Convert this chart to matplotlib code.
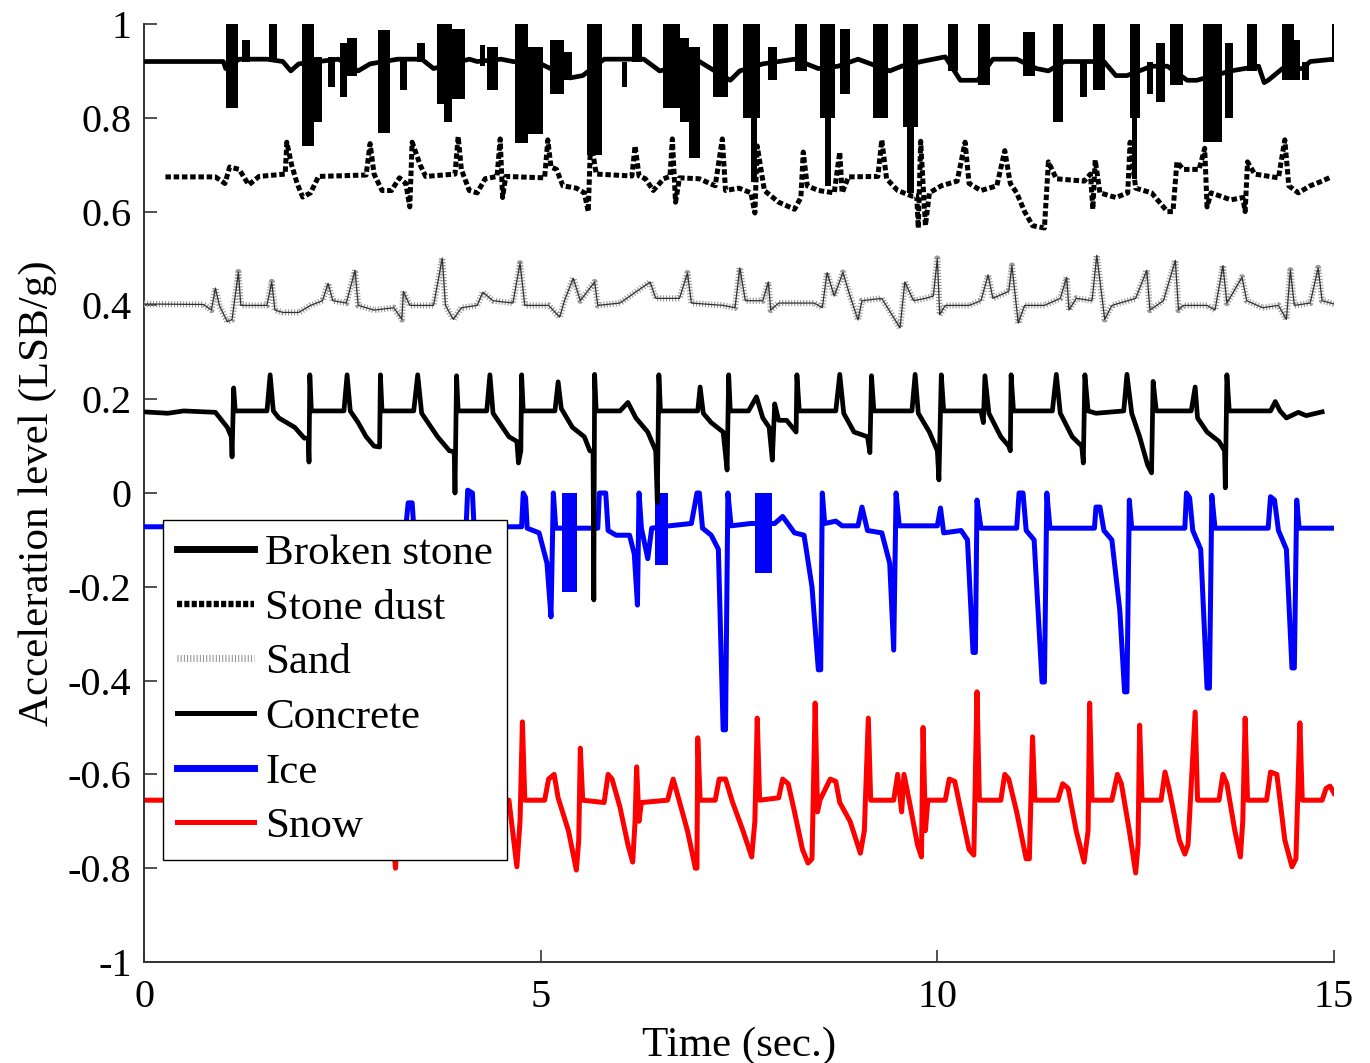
import matplotlib
matplotlib.use('Agg')
import matplotlib.pyplot as plt
from matplotlib.lines import Line2D

plt.rcParams['font.family'] = ['Liberation Serif', 'DejaVu Serif']
plt.rcParams['axes.unicode_minus'] = False

# ---------------- data ----------------
LABELS = ['Broken stone', 'Stone dust', 'Sand', 'Concrete', 'Ice', 'Snow']
XTICKS = [0, 5, 10, 15]
YTICKS = [-1, -0.8, -0.6, -0.4, -0.2, 0, 0.2, 0.4, 0.6, 0.8, 1]
YTICK_LABELS = ['-1', '-0.8', '-0.6', '-0.4', '-0.2', '0', '0.2', '0.4', '0.6', '0.8', '1']

# Broken stone: baseline trace
BS_T = [0, 1.0, 1.03, 1.2, 1.55, 1.75, 1.85, 1.95, 2.2, 2.45, 2.7, 2.85, 3.2, 3.5, 3.65, 4.1, 4.2,
        4.5, 4.65, 5.0, 5.37, 5.53, 5.8, 6.3, 6.5, 7.0, 7.39, 7.51, 7.8, 8.2, 8.5, 8.75, 9.0, 9.4,
        9.55, 9.8, 10.1, 10.29, 10.51, 10.7, 11.0, 11.25, 11.4, 11.6, 12.1, 12.25, 12.39, 12.7,
        12.9, 13.15, 13.27, 13.7, 14.05, 14.12, 14.17, 14.35, 14.6, 14.7, 15.0]
BS_Y = [0.92, 0.92, 0.905, 0.925, 0.925, 0.92, 0.9, 0.915, 0.92, 0.925, 0.9, 0.915, 0.925, 0.925,
        0.905, 0.925, 0.92, 0.925, 0.92, 0.915, 0.885, 0.89, 0.925, 0.925, 0.9, 0.92, 0.88, 0.9,
        0.915, 0.925, 0.905, 0.91, 0.925, 0.9, 0.91, 0.92, 0.93, 0.88, 0.88, 0.925, 0.925, 0.905,
        0.9, 0.92, 0.92, 0.89, 0.89, 0.91, 0.91, 0.88, 0.88, 0.9, 0.91, 0.875, 0.88, 0.905, 0.905,
        0.92, 0.925]
# Broken stone: vibration bursts (start, end, low, high)
BS_B_T0 = [1.03, 1.24, 1.58, 1.99, 2.14, 2.32, 2.47, 2.56, 2.95, 3.23, 3.44, 3.69, 3.78, 3.88,
           4.24, 4.32, 4.68, 4.84, 5.12, 5.30, 5.58, 6.03, 6.15, 6.54, 6.76, 6.87, 7.17, 7.55,
           7.65, 7.87, 8.20, 8.52, 8.58, 8.77, 9.19, 9.57, 9.62, 10.13, 10.51, 11.08, 11.46,
           11.80, 11.96, 12.43, 12.46, 12.64, 12.75, 12.93, 13.35, 13.63, 13.90, 14.35, 14.50,
           14.60, 14.97]
BS_B_T1 = [1.18, 1.34, 1.68, 2.14, 2.24, 2.41, 2.56, 2.68, 3.10, 3.31, 3.54, 3.78, 3.88, 4.05,
           4.30, 4.46, 4.84, 5.03, 5.30, 5.40, 5.77, 6.09, 6.28, 6.76, 6.87, 7.01, 7.36, 7.77,
           7.73, 7.98, 8.36, 8.71, 8.66, 8.90, 9.38, 9.76, 9.70, 10.26, 10.66, 11.23, 11.58,
           11.89, 12.11, 12.55, 12.52, 12.72, 12.87, 13.10, 13.59, 13.73, 14.03, 14.50, 14.57,
           14.68, 15.00]
BS_B_LO = [0.82, 0.92, 0.92, 0.74, 0.79, 0.866, 0.845, 0.89, 0.768, 0.86, 0.92, 0.83, 0.79, 0.84,
           0.91, 0.86, 0.746, 0.765, 0.85, 0.88, 0.72, 0.866, 0.92, 0.82, 0.79, 0.714, 0.845, 0.80,
           0.663, 0.88, 0.90, 0.80, 0.655, 0.85, 0.80, 0.78, 0.64, 0.90, 0.87, 0.89, 0.79, 0.845,
           0.86, 0.80, 0.67, 0.85, 0.834, 0.87, 0.749, 0.80, 0.90, 0.88, 0.88, 0.88, 0.92]
BS_B_HI = [1.0, 0.966, 1.0, 1.0, 0.93, 0.93, 0.96, 0.97, 0.987, 0.93, 0.96, 1.0, 1.0, 0.99, 0.955,
           0.95, 1.0, 0.95, 0.966, 0.94, 1.0, 0.92, 1.0, 1.0, 0.97, 0.95, 1.0, 1.0, 0.80, 0.95,
           1.0, 1.0, 0.80, 0.99, 1.0, 1.0, 0.78, 1.0, 1.0, 0.983, 1.0, 0.92, 1.0, 1.0, 0.80, 0.92,
           0.96, 1.0, 1.0, 0.96, 1.0, 1.0, 0.965, 0.92, 1.0]

# Stone dust
SD_T = [0.27, 0.9, 1.02, 1.08, 1.2, 1.32, 1.45, 1.78, 1.80, 1.86, 1.93, 2.0, 2.1, 2.2, 2.8, 2.85,
        2.9, 3.0, 3.12, 3.22, 3.3, 3.35, 3.38, 3.48, 3.55, 3.92, 3.96, 4.0, 4.1, 4.2, 4.3, 4.45,
        4.49, 4.52, 4.56, 5.05, 5.09, 5.13, 5.2, 5.28, 5.45, 5.55, 5.60, 5.63, 5.70, 6.15, 6.19,
        6.24, 6.32, 6.42, 6.55, 6.63, 6.66, 6.70, 6.75, 7.0, 7.2, 7.29, 7.33, 7.5, 7.65, 7.70,
        7.73, 7.82, 8.0, 8.2, 8.28, 8.31, 8.36, 8.5, 8.7, 8.77, 8.80, 8.88, 9.25, 9.30, 9.36, 9.5,
        9.68, 9.74, 9.76, 9.79, 9.85, 9.9, 10.05, 10.25, 10.35, 10.4, 10.55, 10.75, 10.85, 10.92,
        11.0, 11.1, 11.2, 11.35, 11.4, 11.5, 11.85, 11.93, 11.96, 11.99, 12.05, 12.25, 12.4,
        12.43, 12.5, 12.7, 12.9, 12.97, 13.02, 13.1, 13.3, 13.37, 13.40, 13.45, 13.7, 13.85,
        13.88, 13.91, 14.0, 14.3, 14.38, 14.43, 14.55, 14.7, 14.85, 14.95]
SD_Y = [0.674, 0.674, 0.66, 0.695, 0.69, 0.657, 0.675, 0.68, 0.748, 0.70, 0.66, 0.631, 0.64, 0.675,
        0.678, 0.745, 0.68, 0.645, 0.645, 0.672, 0.66, 0.61, 0.748, 0.70, 0.675, 0.68, 0.76, 0.69,
        0.645, 0.64, 0.67, 0.675, 0.755, 0.63, 0.675, 0.672, 0.753, 0.695, 0.69, 0.655, 0.65,
        0.64, 0.60, 0.755, 0.68, 0.676, 0.74, 0.676, 0.67, 0.645, 0.67, 0.675, 0.755, 0.62, 0.672,
        0.67, 0.655, 0.755, 0.645, 0.65, 0.64, 0.597, 0.74, 0.645, 0.62, 0.605, 0.63, 0.727,
        0.655, 0.645, 0.64, 0.727, 0.64, 0.674, 0.675, 0.753, 0.67, 0.645, 0.633, 0.633, 0.565,
        0.75, 0.57, 0.64, 0.655, 0.665, 0.748, 0.66, 0.645, 0.655, 0.73, 0.66, 0.64, 0.6, 0.57,
        0.565, 0.706, 0.67, 0.665, 0.68, 0.605, 0.71, 0.64, 0.63, 0.64, 0.748, 0.65, 0.64, 0.6,
        0.6, 0.706, 0.69, 0.69, 0.735, 0.61, 0.64, 0.625, 0.63, 0.6, 0.706, 0.68, 0.672, 0.753,
        0.655, 0.64, 0.655, 0.665, 0.673]

# Sand
SA_T = [0, 0.75, 0.85, 0.9, 0.95, 1.05, 1.11, 1.19, 1.22, 1.35, 1.55, 1.61, 1.65, 1.75, 1.95, 2.1,
        2.25, 2.32, 2.38, 2.55, 2.66, 2.7, 2.9, 3.15, 3.25, 3.27, 3.35, 3.65, 3.76, 3.8, 3.9, 4.0,
        4.2, 4.27, 4.4, 4.65, 4.74, 4.8, 5.1, 5.24, 5.3, 5.41, 5.5, 5.68, 5.72, 6.0, 6.38, 6.45,
        6.75, 6.85, 6.9, 7.3, 7.45, 7.51, 7.58, 7.8, 7.87, 7.9, 8.0, 8.45, 8.55, 8.61, 8.7, 8.81,
        8.9, 9.0, 9.05, 9.3, 9.53, 9.59, 9.7, 9.85, 9.95, 10.0, 10.03, 10.1, 10.4, 10.55, 10.64,
        10.7, 10.9, 10.94, 11.02, 11.1, 11.35, 11.55, 11.63, 11.66, 11.75, 11.95, 12.01, 12.11,
        12.2, 12.5, 12.64, 12.68, 12.85, 13.0, 13.04, 13.1, 13.4, 13.5, 13.6, 13.65, 13.84, 13.9,
        14.1, 14.3, 14.4, 14.45, 14.5, 14.7, 14.8, 14.85, 15.0]
SA_Y = [0.403, 0.402, 0.39, 0.437, 0.40, 0.365, 0.37, 0.471, 0.40, 0.40, 0.40, 0.45, 0.39, 0.385,
        0.385, 0.40, 0.41, 0.447, 0.41, 0.405, 0.475, 0.40, 0.39, 0.395, 0.37, 0.43, 0.40, 0.40,
        0.501, 0.40, 0.37, 0.395, 0.40, 0.428, 0.41, 0.405, 0.49, 0.40, 0.40, 0.375, 0.41, 0.458,
        0.41, 0.45, 0.40, 0.405, 0.45, 0.415, 0.415, 0.469, 0.405, 0.40, 0.395, 0.48, 0.41, 0.41,
        0.45, 0.39, 0.405, 0.405, 0.395, 0.47, 0.42, 0.47, 0.42, 0.369, 0.41, 0.415, 0.352, 0.45,
        0.41, 0.415, 0.42, 0.50, 0.38, 0.40, 0.40, 0.41, 0.465, 0.415, 0.43, 0.485, 0.362, 0.40,
        0.40, 0.415, 0.46, 0.39, 0.415, 0.41, 0.507, 0.37, 0.40, 0.415, 0.475, 0.39, 0.41, 0.496,
        0.39, 0.40, 0.40, 0.39, 0.485, 0.405, 0.46, 0.41, 0.395, 0.40, 0.37, 0.475, 0.40, 0.405,
        0.48, 0.41, 0.403]

# Concrete
CO_T = [0, 0.3, 0.5, 0.9, 1.05, 1.1, 1.11, 1.13, 1.15, 1.55, 1.59, 1.63, 1.7, 1.9, 2.02, 2.07, 2.08,
        2.09, 2.11, 2.52, 2.56, 2.6, 2.7, 2.8, 2.9, 2.97, 2.98, 3.0, 3.4, 3.45, 3.5, 3.7, 3.85,
        3.91, 3.92, 3.94, 3.96, 4.32, 4.36, 4.4, 4.6, 4.7, 4.72, 4.75, 4.76, 4.78, 5.18, 5.22,
        5.26, 5.4, 5.55, 5.62, 5.66, 5.67, 5.68, 5.70, 6.0, 6.1, 6.2, 6.35, 6.45, 6.47, 6.49, 6.51,
        6.98, 7.01, 7.05, 7.15, 7.3, 7.35, 7.37, 7.39, 7.62, 7.72, 7.8, 7.88, 7.92, 7.95, 8.0, 8.1,
        8.22, 8.23, 8.26, 8.72, 8.77, 8.82, 8.95, 9.12, 9.15, 9.17, 9.2, 9.68, 9.72, 9.76, 9.9,
        10.0, 10.02, 10.05, 10.08, 10.55, 10.58, 10.6, 10.65, 10.8, 10.9, 10.92, 10.93, 10.96,
        11.45, 11.5, 11.55, 11.7, 11.82, 11.84, 11.86, 11.9, 12.0, 12.35, 12.39, 12.45, 12.55,
        12.65, 12.7, 12.72, 12.76, 13.2, 13.25, 13.28, 13.4, 13.55, 13.62, 13.63, 13.65, 13.68,
        14.2, 14.26, 14.32, 14.4, 14.55, 14.65, 14.85]
CO_Y = [0.173, 0.17, 0.175, 0.172, 0.14, 0.12, 0.077, 0.224, 0.175, 0.175, 0.252, 0.175, 0.16,
        0.14, 0.117, 0.117, 0.066, 0.252, 0.175, 0.175, 0.252, 0.175, 0.15, 0.12, 0.10, 0.098,
        0.252, 0.175, 0.175, 0.252, 0.17, 0.12, 0.09, 0.088, 0.0, 0.25, 0.175, 0.175, 0.252, 0.17,
        0.12, 0.11, 0.064, 0.09, 0.252, 0.175, 0.175, 0.237, 0.18, 0.14, 0.12, 0.09, 0.088,
        -0.228, 0.253, 0.175, 0.175, 0.193, 0.16, 0.13, 0.09, -0.02, 0.252, 0.175, 0.175, 0.226,
        0.17, 0.15, 0.13, 0.049, 0.252, 0.175, 0.175, 0.205, 0.16, 0.14, 0.07, 0.19, 0.155, 0.155,
        0.13, 0.252, 0.175, 0.175, 0.253, 0.17, 0.13, 0.12, 0.086, 0.25, 0.175, 0.175, 0.253,
        0.17, 0.13, 0.09, 0.028, 0.252, 0.175, 0.175, 0.15, 0.25, 0.17, 0.12, 0.10, 0.09, 0.252,
        0.175, 0.175, 0.253, 0.17, 0.12, 0.1, 0.064, 0.252, 0.175, 0.17, 0.175, 0.253, 0.17, 0.12,
        0.06, 0.043, 0.238, 0.175, 0.175, 0.226, 0.16, 0.13, 0.11, 0.09, 0.011, 0.252, 0.175,
        0.175, 0.195, 0.175, 0.16, 0.172, 0.165, 0.173]

# Ice: trace
ICE_T = [0, 3.30, 3.33, 3.38, 3.40, 4.06, 4.08, 4.14, 4.16, 4.76, 4.78, 4.81, 4.83, 4.98, 5.08,
         5.13, 5.16, 5.19, 5.5, 5.72, 5.74, 5.82, 5.85, 5.95, 6.12, 6.18, 6.22, 6.24, 6.27, 6.35,
         6.40, 6.62, 6.9, 6.97, 7.0, 7.04, 7.15, 7.24, 7.30, 7.33, 7.36, 7.40, 7.65, 7.95, 8.05,
         8.2, 8.32, 8.42, 8.50, 8.53, 8.55, 8.58, 8.72, 8.8, 9.0, 9.05, 9.12, 9.3, 9.40, 9.45,
         9.48, 9.52, 10.0, 10.04, 10.08, 10.3, 10.38, 10.45, 10.48, 10.50, 10.55, 11.0, 11.03,
         11.08, 11.12, 11.22, 11.32, 11.35, 11.38, 11.42, 11.98, 12.0, 12.05, 12.1, 12.2, 12.3,
         12.36, 12.39, 12.42, 12.45, 13.12, 13.14, 13.18, 13.22, 13.32, 13.40, 13.43, 13.46, 13.5,
         14.17, 14.2, 14.25, 14.3, 14.4, 14.47, 14.50, 14.53, 14.56, 15.0]
ICE_Y = [-0.072, -0.072, -0.021, -0.021, -0.072, -0.072, 0.006, 0.0, -0.072, -0.072, 0.0, -0.01,
         -0.075, -0.085, -0.15, -0.264, 0.0, -0.075, -0.075, -0.075, 0.0, 0.0, -0.08, -0.09, -0.09,
         -0.13, -0.239, 0.0, -0.075, -0.14, -0.075, -0.07, -0.065, 0.0, 0.0, -0.075, -0.09, -0.12,
         -0.505, -0.505, 0.0, -0.07, -0.065, -0.065, -0.05, -0.085, -0.09, -0.2, -0.377, -0.377,
         0.0, -0.065, -0.06, -0.07, -0.07, -0.03, -0.08, -0.085, -0.15, -0.335, 0.0, -0.07, -0.07,
         -0.032, -0.085, -0.08, -0.1, -0.34, -0.34, -0.015, -0.075, -0.075, 0.0, 0.0, -0.08, -0.1,
         -0.403, -0.403, 0.0, -0.075, -0.075, -0.03, -0.03, -0.08, -0.1, -0.25, -0.424, -0.424,
         -0.015, -0.075, -0.075, 0.0, -0.01, -0.08, -0.12, -0.416, -0.416, -0.005, -0.075, -0.075,
         -0.008, -0.015, -0.08, -0.12, -0.373, -0.373, -0.015, -0.075, -0.075]
# Ice: vibration bursts (start, end, low, high)
ICE_B_T0 = [5.27, 6.44, 7.70]
ICE_B_T1 = [5.46, 6.60, 7.92]
ICE_B_LO = [-0.211, -0.153, -0.17]
ICE_B_HI = [0.0, 0.0, 0.0]

# Snow
SN_T = [0, 3.1, 3.17, 3.22, 4.6, 4.70, 4.74, 4.77, 4.80, 5.05, 5.10, 5.17, 5.22, 5.35, 5.45, 5.48,
        5.50, 5.53, 5.8, 5.85, 5.90, 6.0, 6.10, 6.16, 6.19, 6.21, 6.24, 6.27, 6.6, 6.67, 6.72,
        6.85, 6.95, 6.97, 6.98, 7.01, 7.2, 7.25, 7.33, 7.42, 7.55, 7.66, 7.70, 7.73, 7.76, 8.0,
        8.05, 8.12, 8.2, 8.30, 8.37, 8.42, 8.46, 8.49, 8.52, 8.65, 8.72, 8.77, 8.90, 9.03, 9.08,
        9.13, 9.16, 9.45, 9.5, 9.55, 9.58, 9.65, 9.75, 9.80, 9.82, 9.85, 9.88, 10.1, 10.15, 10.22,
        10.3, 10.40, 10.46, 10.5, 10.53, 10.8, 10.85, 10.9, 11.0, 11.12, 11.16, 11.2, 11.23,
        11.52, 11.58, 11.65, 11.75, 11.85, 11.9, 11.92, 11.95, 12.2, 12.27, 12.32, 12.42, 12.5,
        12.53, 12.55, 12.58, 12.82, 12.87, 12.92, 13.05, 13.12, 13.16, 13.25, 13.28, 13.55, 13.6,
        13.65, 13.75, 13.82, 13.85, 13.88, 13.91, 14.15, 14.2, 14.28, 14.38, 14.47, 14.52, 14.57,
        14.6, 14.85, 14.9, 14.95, 15.0]
SN_Y = [-0.655, -0.655, -0.80, -0.655, -0.655, -0.797, -0.70, -0.488, -0.655, -0.655, -0.61,
        -0.6, -0.65, -0.72, -0.804, -0.74, -0.544, -0.655, -0.66, -0.6, -0.61, -0.67, -0.75,
        -0.787, -0.7, -0.584, -0.7, -0.66, -0.655, -0.61, -0.64, -0.72, -0.80, -0.8, -0.522,
        -0.655, -0.655, -0.61, -0.61, -0.66, -0.72, -0.776, -0.7, -0.48, -0.655, -0.65, -0.61,
        -0.62, -0.68, -0.76, -0.789, -0.78, -0.448, -0.68, -0.655, -0.61, -0.615, -0.66, -0.7,
        -0.768, -0.72, -0.48, -0.655, -0.655, -0.6, -0.68, -0.6, -0.66, -0.75, -0.776, -0.5,
        -0.72, -0.655, -0.655, -0.61, -0.615, -0.68, -0.76, -0.772, -0.424, -0.655, -0.655, -0.6,
        -0.61, -0.68, -0.78, -0.78, -0.52, -0.655, -0.655, -0.62, -0.63, -0.72, -0.787, -0.72,
        -0.448, -0.655, -0.655, -0.6, -0.62, -0.72, -0.81, -0.75, -0.495, -0.655, -0.655, -0.595,
        -0.63, -0.74, -0.77, -0.75, -0.467, -0.655, -0.655, -0.6, -0.62, -0.72, -0.776, -0.7,
        -0.48, -0.655, -0.655, -0.595, -0.6, -0.74, -0.797, -0.78, -0.49, -0.655, -0.655, -0.63,
        -0.625, -0.64]

# ---------------- figure ----------------
W, H = 1370, 1063
fig = plt.figure(figsize=(W / 100, H / 100), dpi=100)
ax = fig.add_axes([144 / W, 101 / H, 1190 / W, 938 / H])

RED, BLUE = '#ff0000', '#0000ff'

ax.plot(SN_T, SN_Y, color=RED, lw=3.6, zorder=2)
ax.plot(ICE_T, ICE_Y, color=BLUE, lw=3.6, zorder=3)
ax.bar(ICE_B_T0, [h - l for h, l in zip(ICE_B_HI, ICE_B_LO)], bottom=ICE_B_LO,
       width=[b - a for a, b in zip(ICE_B_T0, ICE_B_T1)], align='edge',
       color=BLUE, linewidth=0, zorder=3)
ax.plot(SA_T, SA_Y, color='#9a9a9a', lw=4.5, dashes=(0.18, 0.3), dash_capstyle='butt', zorder=4)
ax.plot(SA_T, SA_Y, color='#303030', lw=0.9, zorder=4)
ax.plot(CO_T, CO_Y, color='black', lw=3.4, zorder=5)
ax.plot(SD_T, SD_Y, color='black', lw=3.6, dashes=(1.1, 0.55), dash_capstyle='butt', zorder=6)
ax.plot(BS_T, BS_Y, color='black', lw=3.4, zorder=7)
ax.bar(BS_B_T0, [h - l for h, l in zip(BS_B_HI, BS_B_LO)], bottom=BS_B_LO,
       width=[b - a for a, b in zip(BS_B_T0, BS_B_T1)], align='edge',
       color='black', linewidth=0, zorder=7)

ax.set_xlim(0, 15)
ax.set_ylim(-1, 1)
ax.set_xticks(XTICKS)
ax.set_xticklabels([str(v) for v in XTICKS])
ax.set_yticks(YTICKS)
ax.set_yticklabels(YTICK_LABELS)

for s in ['top', 'right']:
    ax.spines[s].set_visible(False)
for s in ['left', 'bottom']:
    ax.spines[s].set_color('#333333')
    ax.spines[s].set_linewidth(1.4)
ax.tick_params(direction='in', length=9, width=1.2, color='#333333', labelsize=29)
ax.tick_params(axis='y', pad=9)
ax.tick_params(axis='x', pad=12)

ax.set_xlabel('Time (sec.)', fontsize=31, labelpad=8)
ax.set_ylabel('Acceleration level (LSB/g)', fontsize=31, labelpad=8)

handles = [
    Line2D([], [], color='black', lw=5.0),
    Line2D([], [], color='black', lw=4.6, dashes=(0.8, 0.35), dash_capstyle='butt'),
    Line2D([], [], color='#8a8a8a', lw=5.0, dashes=(0.14, 0.32), dash_capstyle='butt'),
    Line2D([], [], color='black', lw=3.6),
    Line2D([], [], color=BLUE, lw=5.0),
    Line2D([], [], color=RED, lw=3.6),
]
leg = ax.legend(handles, LABELS, loc='upper left', bbox_to_anchor=(0.016, 0.471),
                borderaxespad=0, fontsize=31, handlelength=1.8, handletextpad=0.25,
                labelspacing=0.36, borderpad=0.32, fancybox=False, framealpha=1,
                edgecolor='black')
leg.get_frame().set_linewidth(1.0)
leg.set_zorder(20)

fig.savefig('out.png', dpi=100)
